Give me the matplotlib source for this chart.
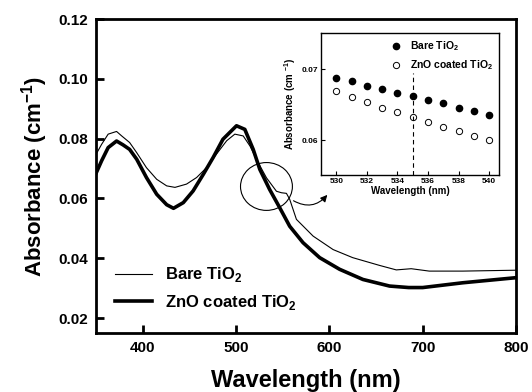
import matplotlib
matplotlib.use("Agg")
import matplotlib.pyplot as plt
from matplotlib.patches import Ellipse

plt.rcParams['font.family'] = ['Liberation Sans', 'DejaVu Sans']
plt.rcParams['font.weight'] = 'bold'
plt.rcParams['mathtext.fontset'] = 'custom'
plt.rcParams['mathtext.rm'] = 'Liberation Sans:bold'
plt.rcParams['mathtext.bf'] = 'Liberation Sans:bold'

# --- main spectra ---
wl_bare = [351, 356, 363, 372, 377.5, 386, 393.6, 404, 415, 425.7, 434.6, 447, 457.8, 468.4,
           479, 490, 498.7, 507.7, 515, 522, 532.6, 543.3, 548.7, 554, 557.5, 564.7, 582.6,
           604, 625, 653.8, 671.7, 687.7, 707, 743, 800]
abs_bare = [0.0753, 0.0781, 0.0815, 0.0824, 0.0809, 0.0787, 0.0753, 0.0703, 0.0664, 0.0642,
            0.0637, 0.0648, 0.0670, 0.0703, 0.0748, 0.0793, 0.0815, 0.0809, 0.0775, 0.0730,
            0.0669, 0.0624, 0.0619, 0.0617, 0.0597, 0.0530, 0.0474, 0.0429, 0.0402, 0.0376,
            0.0361, 0.0365, 0.0357, 0.0357, 0.0360]

wl_zno = [350, 356, 363, 372, 379, 386, 393.6, 404, 415, 425.7, 433, 443.5, 454, 465, 475.5,
          486, 500.5, 509.4, 518.4, 525.5, 536, 546.8, 557.5, 571.8, 589.6, 611, 636, 664.5,
          685, 700, 743, 800]
abs_zno = [0.0684, 0.0726, 0.0770, 0.0792, 0.0779, 0.0764, 0.0731, 0.0670, 0.0614, 0.0579,
           0.0567, 0.0586, 0.0625, 0.0681, 0.0737, 0.0798, 0.0843, 0.0831, 0.0764, 0.0697,
           0.0630, 0.0569, 0.0507, 0.0452, 0.0402, 0.0363, 0.0329, 0.0307, 0.0302, 0.0302,
           0.0318, 0.0335]

# --- inset points ---
wl_in = [530, 531, 532, 533, 534, 535, 536, 537, 538, 539, 540]
in_bare = [0.0688, 0.0683, 0.0677, 0.0672, 0.0667, 0.0662, 0.0657, 0.0652, 0.0646, 0.0641, 0.0635]
in_zno = [0.0669, 0.0661, 0.0654, 0.0646, 0.0640, 0.0632, 0.0625, 0.0619, 0.0613, 0.0606, 0.0600]

fig = plt.figure(figsize=(5.32, 3.92), dpi=100)
ax = fig.add_axes([0.1805, 0.1505, 0.7895, 0.801])

ax.plot(wl_bare, abs_bare, color='black', lw=0.8, solid_joinstyle='round', label='Bare TiO$_2$')
ax.plot(wl_zno, abs_zno, color='black', lw=2.6, solid_joinstyle='round', label='ZnO coated TiO$_2$')

ax.set_xlim(350, 800)
ax.set_ylim(0.015, 0.12)
ax.set_xticks([400, 500, 600, 700, 800])
ax.set_yticks([0.02, 0.04, 0.06, 0.08, 0.10, 0.12])
ax.set_yticklabels(['0.02', '0.04', '0.06', '0.08', '0.10', '0.12'])
ax.tick_params(direction='in', length=6, width=2, labelsize=11, top=False, right=False, pad=6)
for s in ax.spines.values():
    s.set_linewidth(2)
ax.set_xlabel('Wavelength (nm)', fontsize=17, fontweight='bold', labelpad=10)
ax.set_ylabel('Absorbance (cm$^{-1}$)', fontsize=16, fontweight='bold', labelpad=6)

ax.legend(loc='lower left', frameon=False, fontsize=12, handlelength=2.2,
          bbox_to_anchor=(0.01, 0.02), labelspacing=0.5)

# circle + arrow pointing at the inset
ell = Ellipse((532.6, 0.064), 55.6, 0.016, fill=False, lw=0.8, color='black')
ax.add_patch(ell)
ax.annotate('', xy=(599.7, 0.0619), xytext=(559, 0.0597),
            arrowprops=dict(arrowstyle='-|>', color='black', lw=0.8,
                            connectionstyle='arc3,rad=0.45', mutation_scale=10))

# --- inset ---
axi = fig.add_axes([0.6034, 0.5536, 0.3346, 0.3622])
axi.plot(wl_in, in_bare, 'o', color='black', ms=4.5, label='Bare TiO$_2$')
axi.plot(wl_in, in_zno, 'o', mfc='white', mec='black', mew=0.7, ms=4.5, label='ZnO coated TiO$_2$')
axi.axvline(535, ymin=0, ymax=0.72, color='black', ls=(0, (4, 3)), lw=0.8)
axi.set_xlim(529.0, 540.65)
axi.set_ylim(0.0551, 0.0751)
axi.set_xticks([530, 532, 534, 536, 538, 540])
axi.set_yticks([0.06, 0.07])
axi.tick_params(direction='in', length=3, width=0.8, labelsize=6, top=False, right=False, pad=2)
for s in axi.spines.values():
    s.set_linewidth(1)
axi.set_xlabel('Wavelength (nm)', fontsize=7, fontweight='bold', labelpad=1)
axi.set_ylabel('Absorbance (cm $^{-1}$)', fontsize=7, fontweight='bold', labelpad=3)
axi.legend(loc='upper right', frameon=False, fontsize=7.5, handletextpad=0.3,
           borderaxespad=0.2, labelspacing=0.5)

fig.savefig('out.png', dpi=100)
